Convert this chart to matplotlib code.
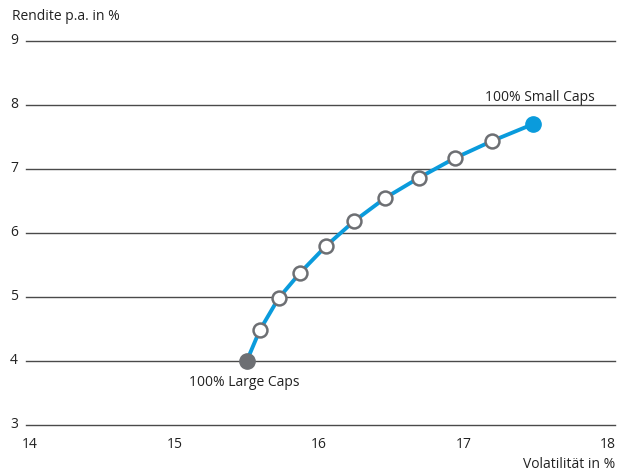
import matplotlib
matplotlib.use("Agg")
import matplotlib.pyplot as plt
import matplotlib.transforms as mtransforms

# Data
volatility = [15.50, 15.59, 15.72, 15.87, 16.05, 16.24, 16.46, 16.69, 16.94, 17.20, 17.48]
returns = [4.00, 4.48, 4.98, 5.38, 5.80, 6.18, 6.55, 6.86, 7.17, 7.44, 7.70]
y_ticks = [3, 4, 5, 6, 7, 8, 9]
x_ticks = [14, 15, 16, 17, 18]

BLUE = "#0a9bdc"
GREY = "#6d6f73"
GRID = "#4a4a4a"

plt.rcParams["font.family"] = ["Open Sans", "DejaVu Sans"]

W, H = 619, 471
fig = plt.figure(figsize=(W / 100, H / 100), dpi=100)
ax = fig.add_axes([26 / W, 46 / H, (615 - 26) / W, (425 - 41) / H])
ax.set_xlim(14 - 4 / 144.5, 18 + 7 / 144.5)
ax.set_ylim(3, 9)

for s in ax.spines.values():
    s.set_visible(False)
ax.set_xticks([])
ax.set_yticks([])

for y in y_ticks:
    ax.axhline(y, color=GRID, linewidth=1.0, zorder=1, clip_on=False)
    ax.text(-8 / (615 - 26), y, str(y), transform=mtransforms.blended_transform_factory(ax.transAxes, ax.transData),
            ha="right", va="center", fontsize=10, color="#222222")

for x in x_ticks:
    ax.text(x, 2.7, str(x), ha="center", va="center", fontsize=10, color="#222222")

# curve
ax.plot(volatility, returns, color=BLUE, linewidth=2.8, zorder=2, solid_capstyle="round")
ax.plot(volatility[1:-1], returns[1:-1], linestyle="none", marker="o", markersize=10,
        markerfacecolor="white", markeredgecolor=GREY, markeredgewidth=1.8, zorder=3)
ax.plot(volatility[0], returns[0], marker="o", markersize=11, color=GREY, zorder=4)
ax.plot(volatility[-1], returns[-1], marker="o", markersize=11, color=BLUE, zorder=4)

ax.text(volatility[-1] + 0.05, 8.12, "100% Small Caps", ha="center", va="center", fontsize=10, color="#222222")
ax.text(volatility[0] - 0.02, 3.67, "100% Large Caps", ha="center", va="center", fontsize=10, color="#222222")

fig.text(12 / W, 1 - 17 / H, "Rendite p.a. in %", ha="left", va="center", fontsize=10, color="#222222")
fig.text(615 / W, 1 - 465 / H, "Volatilität in %", ha="right", va="center", fontsize=10, color="#222222")

fig.savefig("out.png", dpi=100)
